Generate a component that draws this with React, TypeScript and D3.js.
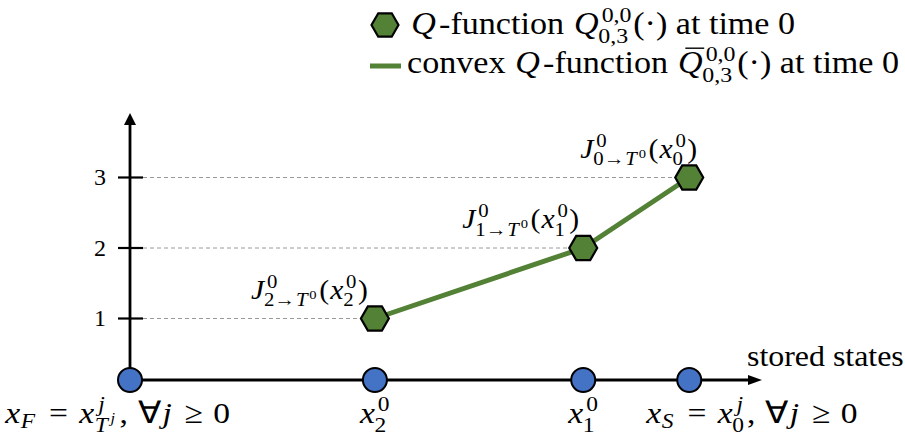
import React from 'react';
import * as d3 from 'd3';

// stored states on the horizontal axis (position along the state axis)
const stateNames = ['xF', 'x2', 'x1', 'xS'];
const statePos = [0, 3.95, 7.31, 9.02];
const stateLabels = [
  'x_F = x^j_{T^j}, \\forall{}j \\geq 0',
  'x^0_2',
  'x^0_1',
  'x_S = x^j_0, \\forall{}j \\geq 0',
];

// Q-function values at time 0
const qStates = ['x2', 'x1', 'xS'];
const qValues = [1, 2, 3];
const qLabels = [
  'J^0_{2\\to{}T^0}(x^0_2)',
  'J^0_{1\\to{}T^0}(x^0_1)',
  'J^0_{0\\to{}T^0}(x^0_0)',
];

const yTicks = [1, 2, 3];
const legendLabels = [
  'Q\\text{-function }Q^{0,0}_{0,3}(\\cdot)\\text{ at time 0}',
  '\\text{convex }Q\\text{-function }\\bar{Q}^{0,0}_{0,3}(\\cdot)\\text{ at time 0}',
];
const xAxisTitle = 'stored states';

const GREEN = '#538135';
const BLUE = '#4472C4';
const FONT = "'Liberation Serif'";
const SX = 1.1; // horizontal stretch, Times is narrower than Computer Modern

type MNode = { t: string; it?: boolean; bar?: boolean; sup?: MNode[]; sub?: MNode[]; space?: number };
const CMDS: Record<string, string> = { to: '→', forall: '∀', geq: '≥', cdot: '·' };

// tiny tex-ish parser: ^ _ {} \text \bar and a few symbols
function parseTex(s: string): MNode[] {
  let i = 0;
  const readArg = (): MNode[] => {
    if (s[i] === '{') { i++; const r = parseUntil('}'); i++; return r; }
    return parseOne();
  };
  const parseOne = (): MNode[] => {
    const c = s[i];
    if (c === '\\') {
      i++;
      let name = '';
      while (i < s.length && /[a-zA-Z]/.test(s[i])) name += s[i++];
      if (name === 'text') {
        i++;
        let raw = '';
        while (s[i] !== '}') raw += s[i++];
        i++;
        return [{ t: raw }];
      }
      if (name === 'bar') { const a = readArg(); a.forEach(n => (n.bar = true)); return a; }
      return [{ t: CMDS[name] ?? name }];
    }
    i++;
    if (c === ' ') return [{ t: '', space: 0.3 }];
    if (/[a-zA-Z]/.test(c)) return [{ t: c, it: true }];
    return [{ t: c }];
  };
  const parseUntil = (end?: string): MNode[] => {
    const out: MNode[] = [];
    while (i < s.length && s[i] !== end) {
      const c = s[i];
      if (c === '^' || c === '_') {
        i++;
        const arg = readArg();
        if (!out.length) out.push({ t: '' });
        const last = out[out.length - 1];
        if (c === '^') last.sup = arg; else last.sub = arg;
      } else if (c === '{') {
        i++; out.push(...parseUntil('}')); i++;
      } else out.push(...parseOne());
    }
    return out;
  };
  return parseUntil();
}

function layoutTex(g: any, nodes: MNode[], x: number, y: number, size: number): number {
  for (const n of nodes) {
    if (n.space) { x += n.space * size; continue; }
    let w = 0;
    if (n.t) {
      const el = g.append('text')
        .attr('x', x + (n.it ? size * 0.04 : 0)).attr('y', y)
        .style('font-family', FONT)
        .style('font-size', size + 'px')
        .style('white-space', 'pre')
        .text(n.t);
      if (n.it) el.style('font-style', 'italic');
      w = (el.node() as SVGTextElement).getComputedTextLength();
      if (n.it) w += size * 0.13;
      if (n.bar) {
        g.append('line')
          .attr('x1', x + w * 0.3).attr('x2', x + w * 0.95)
          .attr('y1', y - size * 0.8).attr('y2', y - size * 0.8)
          .attr('stroke', '#000').attr('stroke-width', size * 0.045);
      }
    }
    const nx = x + w;
    let sw = 0;
    if (n.sup) sw = layoutTex(g, n.sup, nx, y - size * 0.4, size * 0.7) - nx;
    if (n.sub) sw = Math.max(sw, layoutTex(g, n.sub, nx - (n.it ? size * 0.1 : 0), y + size * (n.sup ? 0.28 : 0.18), size * 0.7) - nx);
    x = nx + sw + (n.sup || n.sub ? size * 0.05 : 0);
  }
  return x;
}

function drawTex(parent: any, tex: string, x: number, y: number, size: number, anchor = 'start') {
  const g = parent.append('g').attr('fill', '#000');
  const w = layoutTex(g, parseTex(tex), 0, 0, size) * SX;
  const dx = anchor === 'end' ? w : anchor === 'middle' ? w / 2 : 0;
  g.attr('transform', `translate(${x - dx},${y}) scale(${SX},1)`);
  return g;
}

const hexPath = (r: number) =>
  d3.line()(d3.range(6).map(k => [r * Math.cos((k * Math.PI) / 3), r * Math.sin((k * Math.PI) / 3)] as [number, number])) + 'Z';

const App = () => {
  const svgRef = React.useRef<SVGSVGElement>(null);
  const width = 905;
  const height = 443;

  React.useEffect(() => {
    const svg = d3.select(svgRef.current);
    svg.selectAll('*').remove();

    const x = d3.scaleLinear().domain([0, 10]).range([130, 750]);
    const y = d3.scaleLinear().domain([1, 3]).range([318.5, 177.5]);
    const y0 = 380;
    const posOf = (name: string) => x(statePos[stateNames.indexOf(name)]);

    // dashed guides from y ticks to the points
    qValues.forEach((v, i) => {
      svg.append('line')
        .attr('x1', x(0) + 13).attr('x2', posOf(qStates[i]))
        .attr('y1', y(v)).attr('y2', y(v))
        .attr('stroke', '#9a9a9a').attr('stroke-width', 1)
        .attr('stroke-dasharray', '4,3');
    });

    // axes
    const xEnd = x.range()[1] + 12;
    const yTop = 113;
    svg.append('line').attr('x1', x(0)).attr('x2', xEnd - 10).attr('y1', y0).attr('y2', y0)
      .attr('stroke', '#000').attr('stroke-width', 2.8);
    svg.append('path').attr('d', `M${xEnd},${y0} L${xEnd - 14},${y0 - 5} L${xEnd - 14},${y0 + 5} Z`).attr('fill', '#000');
    svg.append('line').attr('x1', x(0)).attr('x2', x(0)).attr('y1', y0).attr('y2', yTop + 10)
      .attr('stroke', '#000').attr('stroke-width', 2.8);
    svg.append('path').attr('d', `M${x(0)},${yTop} L${x(0) - 6},${yTop + 12} L${x(0) + 6},${yTop + 12} Z`).attr('fill', '#000');

    yTicks.forEach(t => {
      svg.append('line').attr('x1', x(0) - 12).attr('x2', x(0) + 13)
        .attr('y1', y(t)).attr('y2', y(t)).attr('stroke', '#000').attr('stroke-width', 2.2);
      svg.append('text').attr('x', 106).attr('y', y(t)).attr('dy', '0.33em')
        .attr('text-anchor', 'end').style('font-family', FONT).style('font-size', '24px').text(t);
    });

    // convex Q-function line
    const line = d3.line<number>().x((_, i) => posOf(qStates[i])).y(v => y(v));
    svg.append('path').attr('d', line(qValues)).attr('fill', 'none')
      .attr('stroke', GREEN).attr('stroke-width', 5);

    // stored-state dots
    statePos.forEach(p => {
      svg.append('circle').attr('cx', x(p)).attr('cy', y0).attr('r', 12)
        .attr('fill', BLUE).attr('stroke', '#000').attr('stroke-width', 2);
    });

    // Q points + labels
    const qLabelDx = [-7, -4, 8];
    qValues.forEach((v, i) => {
      const px = posOf(qStates[i]);
      svg.append('path').attr('d', hexPath(14)).attr('transform', `translate(${px},${y(v)})`)
        .attr('fill', GREEN).attr('stroke', '#000').attr('stroke-width', 2.2);
      drawTex(svg, qLabels[i], px + qLabelDx[i], y(v) - 20, 27, 'end');
    });

    // state labels
    const labelShift = [-13, 0, 0, 62];
    stateLabels.forEach((lab, i) => {
      drawTex(svg, lab, x(statePos[i]) + labelShift[i], 423, 30.5, 'middle');
    });

    drawTex(svg, `\\text{${xAxisTitle}}`, 747, 366, 29);

    // legend
    svg.append('path').attr('d', hexPath(13.5)).attr('transform', 'translate(385,25)')
      .attr('fill', GREEN).attr('stroke', '#000').attr('stroke-width', 2.2);
    drawTex(svg, legendLabels[0], 410, 34, 31);
    svg.append('line').attr('x1', 370).attr('x2', 401).attr('y1', 66).attr('y2', 66)
      .attr('stroke', GREEN).attr('stroke-width', 5);
    drawTex(svg, legendLabels[1], 407, 73, 31);
  }, []);

  return (
    <svg ref={svgRef} width={width} height={height}
      style={{ position: 'absolute', left: 0, top: 0, background: '#fff' }} />
  );
};

export default App;
